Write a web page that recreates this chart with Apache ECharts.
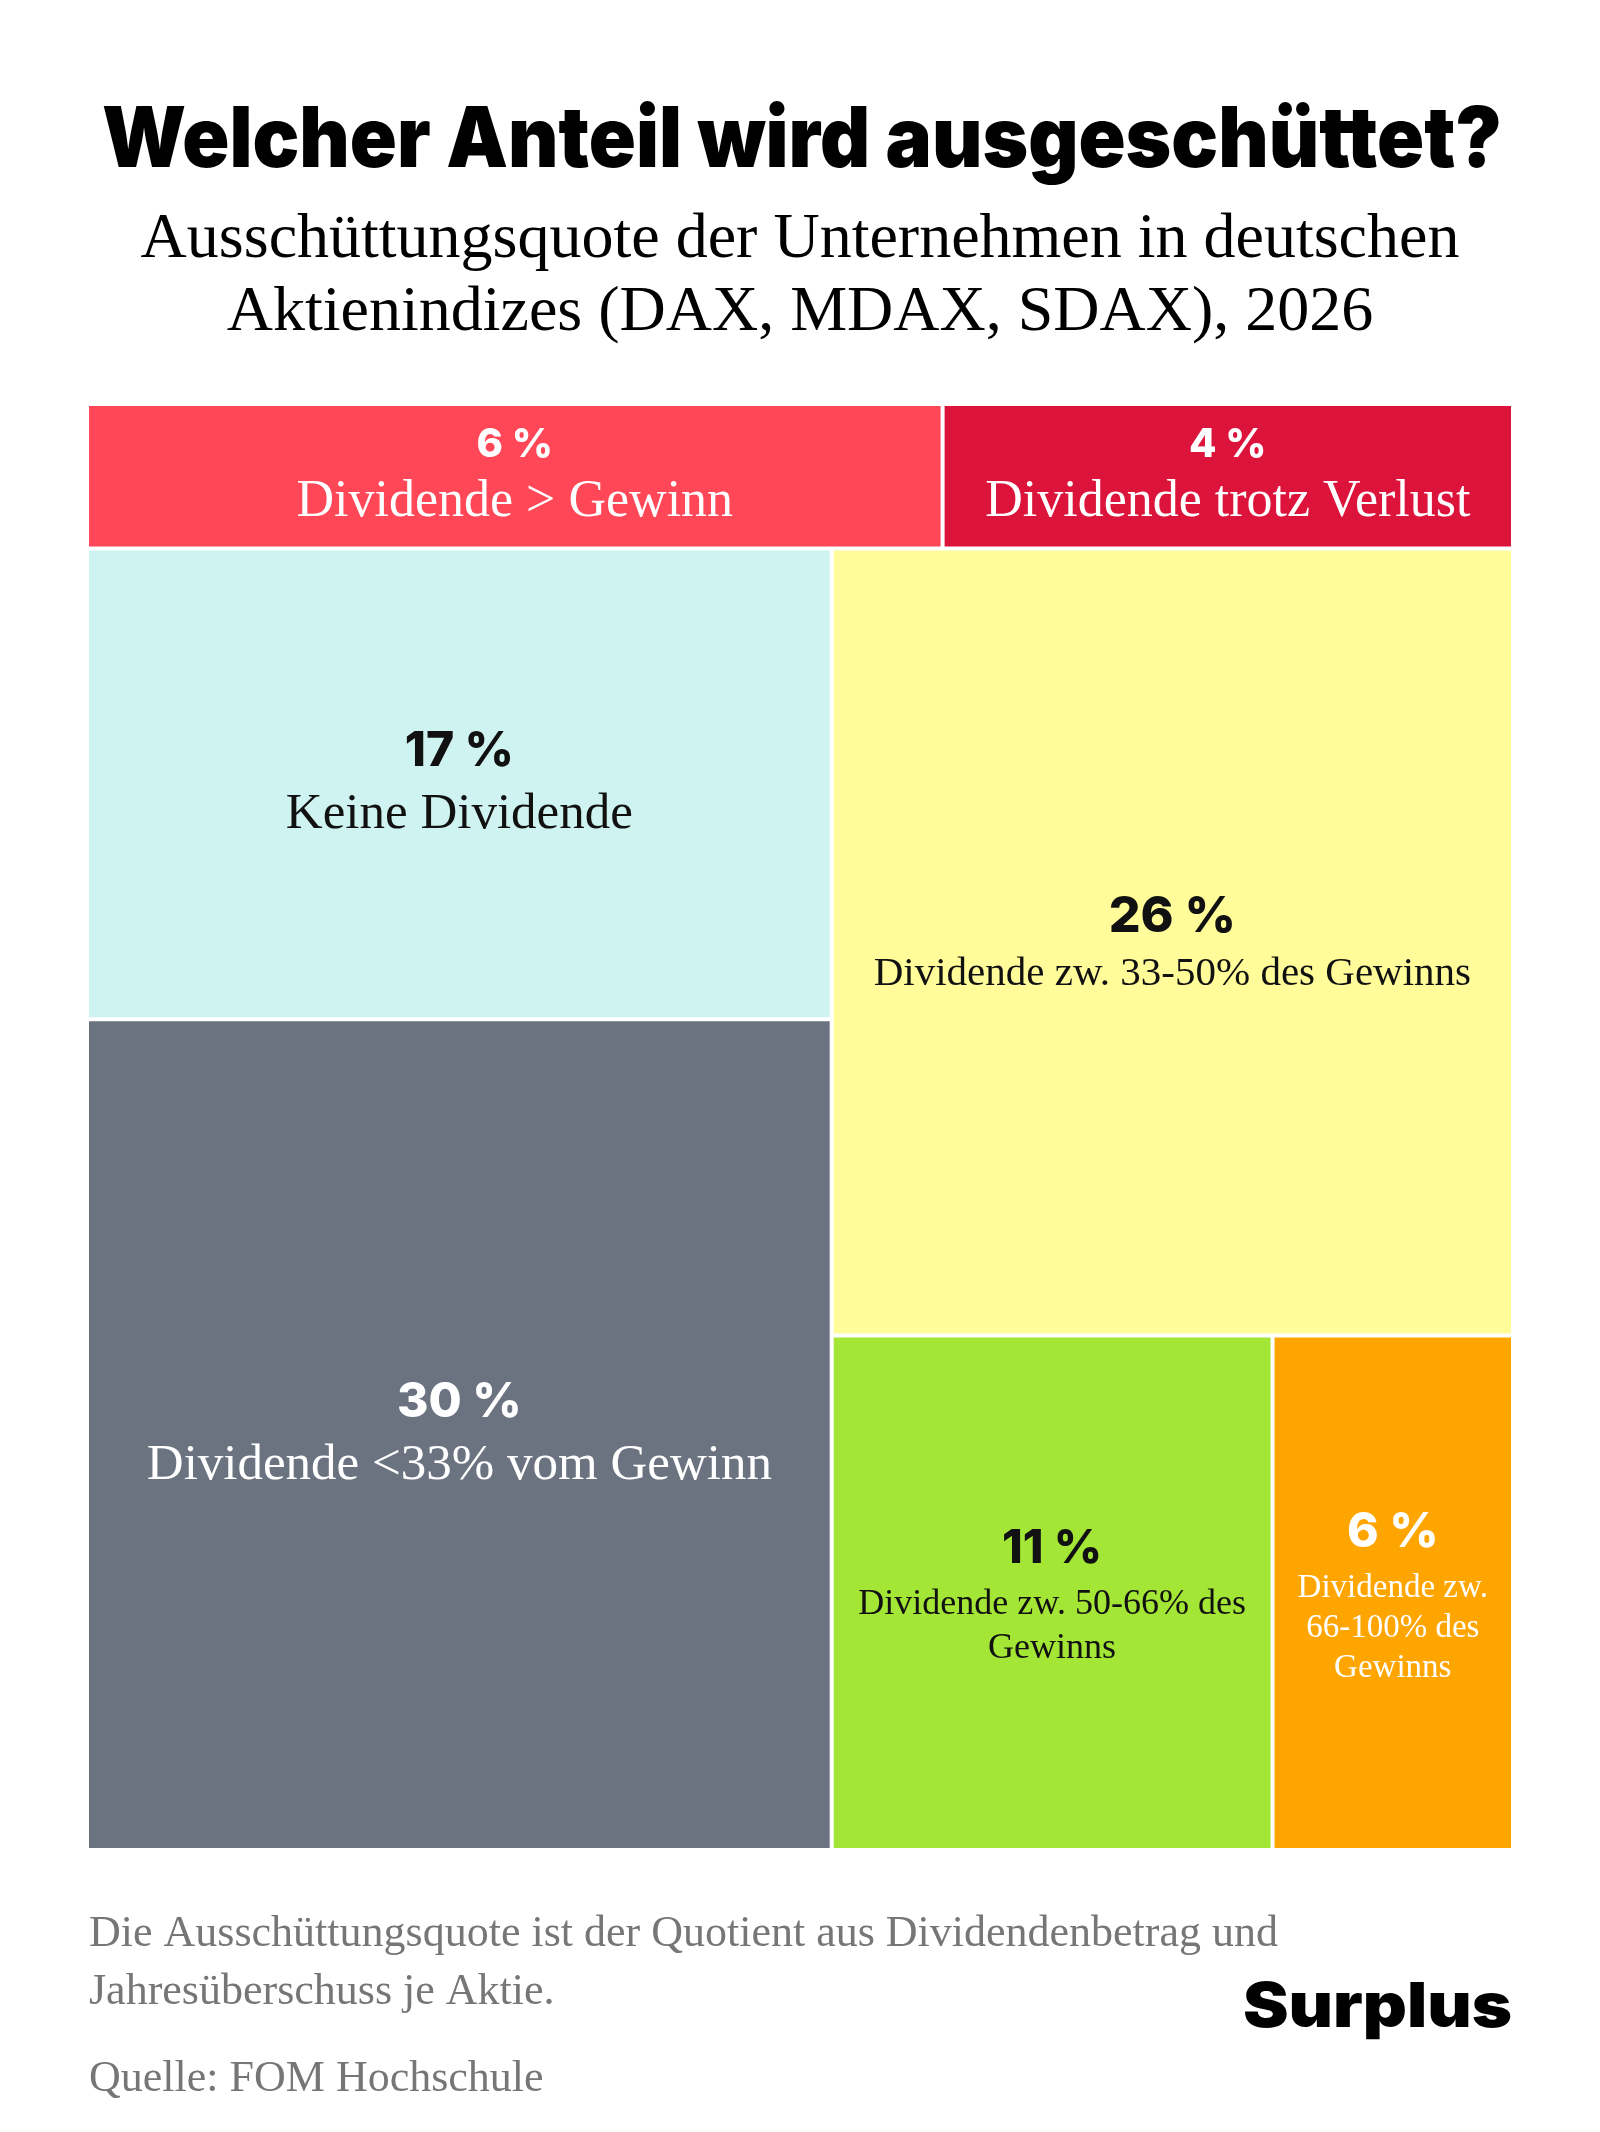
<!DOCTYPE html>
<html>
<head>
<meta charset="utf-8">
<title>Welcher Anteil wird ausgeschüttet?</title>
<script src="https://cdn.jsdelivr.net/npm/echarts@6/dist/echarts.min.js"></script>
<style>
  html, body { margin: 0; padding: 0; background: #fff; }
  #chart { width: 1600px; height: 2132px; }
</style>
</head>
<body>
<div id="chart"></div>
<script>
// Daten: Ausschüttungsquote, Anteil der Unternehmen in %
var categories = [
    'Dividende > Gewinn',
    'Dividende trotz Verlust',
    'Keine Dividende',
    'Dividende <33% vom Gewinn',
    'Dividende zw. 33-50% des Gewinns',
    'Dividende zw. 50-66% des Gewinns',
    'Dividende zw. 66-100% des Gewinns'
];
var shares = [6, 4, 17, 30, 26, 11, 6];

// Gruppierung der Kacheln (Indizes in categories)
var nesting = [[0, 1], [[2, 3], [4, [5, 6]]]];

// Stil je Kachel
var fillColors = ['#FF4757', '#DC143C', '#CFF3F0', '#6B7280', '#FFFC99', '#A3E635', '#FFA500'];
var textColors = ['#fff', '#fff', '#111', '#fff', '#111', '#111', '#fff'];
var pctSizes  = [40, 40, 48, 48, 50, 47, 48];
var descSizes = [52, 52, 51, 51, 41, 36, 33];
var pctLines  = [52, 52, 62, 62, 64, 68, 72];
var descLines = [62, 62, 64, 64, 50, 44, 40];
var wrapWidth = [0, 0, 0, 0, 0, 420, 215];   // 0 = kein Umbruch

var SANS = 'Inter, "Noto Sans", sans-serif';
var SERIF = '"Liberation Serif", "DejaVu Serif", serif';

var measureCtx = document.createElement('canvas').getContext('2d');

// Textbreite messen (für schmale Schnitte und Zeilenumbruch)
function textWidth(text, font) {
    measureCtx.font = font;
    return measureCtx.measureText(text).width;
}
function fitScale(text, font, target) {
    return target / textWidth(text, font);
}
function wrapLines(text, font, maxW) {
    if (!maxW) return [text];
    var words = text.split(' ');
    var lines = [];
    var line = '';
    words.forEach(function (w) {
        var test = line ? line + ' ' + w : w;
        if (line && textWidth(test, font) > maxW) {
            lines.push(line);
            line = w;
        } else {
            line = test;
        }
    });
    if (line) lines.push(line);
    return lines;
}
function descLinesOf(i) {
    return wrapLines(categories[i], descSizes[i] + 'px ' + SERIF, wrapWidth[i]);
}

function buildNode(item, pads) {
    if (typeof item === 'number') {
        var i = item;
        return {
            name: categories[i],
            value: shares[i],
            idx: i,
            itemStyle: { color: fillColors[i] },
            label: {
                padding: [pads[i] || 0, 0, 0, 0],
                rich: {
                    p: { fontFamily: SANS, fontWeight: 800, fontSize: pctSizes[i], lineHeight: pctLines[i], color: textColors[i], align: 'center' },
                    d: { fontFamily: SERIF, fontSize: descSizes[i], lineHeight: descLines[i], color: textColors[i], align: 'center' }
                }
            }
        };
    }
    var children = item.map(function (c) { return buildNode(c, pads); });
    var sum = 0;
    children.forEach(function (c) { sum += c.value; });
    return { name: '', value: sum, children: children, itemStyle: { color: '#fff' } };
}

function buildTree(pads) {
    return nesting.map(function (c) { return buildNode(c, pads); });
}

var titleText = 'Welcher Anteil wird ausgeschüttet?';
var titleFont = '900 84px Inter';
var logoText = 'Surplus';
var logoFont = '900 62px Inter';

var myChart = echarts.init(document.getElementById('chart'), null, { renderer: 'canvas' });

var option = {
    backgroundColor: '#fff',
    animation: false,
    graphic: [
        {
            type: 'text', x: 802, y: 142,
            scaleX: fitScale(titleText, titleFont, 1400),
            style: { text: titleText, font: titleFont, fill: '#000', align: 'center', verticalAlign: 'middle' }
        },
        {
            type: 'text', x: 800, y: 204,
            style: {
                text: 'Ausschüttungsquote der Unternehmen in deutschen\nAktienindizes (DAX, MDAX, SDAX), 2026',
                fontFamily: SERIF, fontSize: 64, lineHeight: 73,
                fill: '#000', align: 'center', verticalAlign: 'top'
            }
        },
        {
            type: 'text', x: 89, y: 1905,
            style: {
                text: 'Die Ausschüttungsquote ist der Quotient aus Dividendenbetrag und\nJahresüberschuss je Aktie.',
                fontFamily: SERIF, fontSize: 44, lineHeight: 58,
                fill: '#767676', align: 'left', verticalAlign: 'top'
            }
        },
        {
            type: 'text', x: 89, y: 2079,
            style: {
                text: 'Quelle: FOM Hochschule',
                fontFamily: SERIF, fontSize: 44,
                fill: '#767676', align: 'left', verticalAlign: 'middle'
            }
        },
        {
            type: 'text', x: 1512, y: 2008,
            scaleX: fitScale(logoText, logoFont, 269),
            style: { text: logoText, font: logoFont, fill: '#000', align: 'right', verticalAlign: 'middle' }
        }
    ],
    series: [
        {
            type: 'treemap',
            left: 89,
            top: 406,
            width: 1422,
            height: 1442,
            sort: false,
            squareRatio: 0.5,
            roam: false,
            nodeClick: false,
            breadcrumb: { show: false },
            silent: true,
            itemStyle: { borderWidth: 0, gapWidth: 4, borderColor: '#fff' },
            upperLabel: { show: false },
            label: {
                show: true,
                position: 'inside',
                align: 'center',
                verticalAlign: 'middle',
                overflow: 'none',
                formatter: function (params) {
                    var i = params.data.idx;
                    if (i === undefined) return '';
                    return '{p|' + shares[i] + ' %}\n' + descLinesOf(i).map(function (l) {
                        return '{d|' + l + '}';
                    }).join('\n');
                }
            },
            data: buildTree({})
        }
    ]
};

myChart.setOption(option);

// Textblock senkrecht mittig: Kachelhöhen aus dem Treemap-Layout lesen
function centerPads() {
    var pads = {};
    try {
        var data = myChart.getModel().getSeriesByIndex(0).getData();
        data.tree.root.eachNode(function (node) {
            var raw = data.getRawDataItem(node.dataIndex);
            var i = raw && raw.idx;
            if (i === undefined || i === null) return;
            var layout = node.getLayout();
            var block = pctLines[i] + descLinesOf(i).length * descLines[i];
            pads[i] = Math.max(0, (layout.height - block) / 2);
        });
    } catch (e) {
        console.log(e);
    }
    return pads;
}

myChart.setOption({ series: [{ data: buildTree(centerPads()) }] });
</script>
</body>
</html>
